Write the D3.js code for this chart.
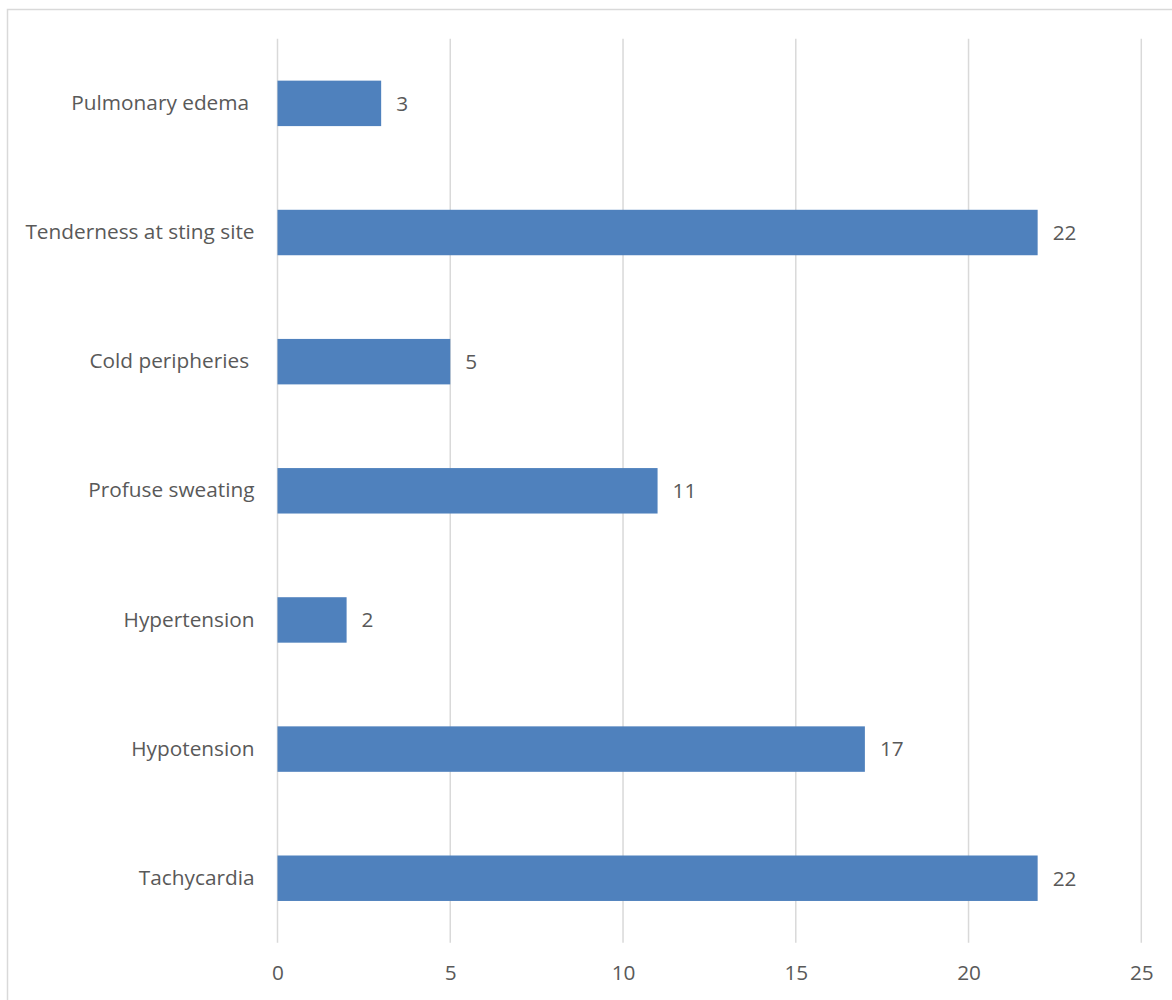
<!DOCTYPE html>
<html>
<head>
<meta charset="utf-8">
<script src="https://cdn.jsdelivr.net/npm/d3@7"></script>
<style>
  html, body { margin: 0; padding: 0; background: #fff; }
  svg { display: block; }
  text { font-family: "Open Sans", sans-serif; fill: #595959; white-space: pre; }
</style>
</head>
<body>
<svg id="chart" width="1172" height="1000"></svg>
<script>
// Symptom counts, listed top to bottom
const categories = [
  "Pulmonary edema ",
  "Tenderness at sting site",
  "Cold peripheries ",
  "Profuse sweating",
  "Hypertension",
  "Hypotension",
  "Tachycardia"
];
const counts = [3, 22, 5, 11, 2, 17, 22];
const xTicks = [0, 5, 10, 15, 20, 25];

const svg = d3.select("#chart");
const W = 1172, H = 1000;
const FS = 20.8;

// chart area frame
svg.append("rect")
  .attr("x", 7.5).attr("y", 9.5)
  .attr("width", W + 20).attr("height", H + 20)
  .attr("fill", "none").attr("stroke", "#d9d9d9").attr("stroke-width", 1.5);

const plot = { left: 277.5, right: 1141.3, top: 38.8, bottom: 942.8 };

const x = d3.scaleLinear().domain([0, 25]).range([plot.left, plot.right]);
const y = d3.scaleBand().domain(categories).range([plot.top, plot.bottom])
  .paddingInner(0.648).paddingOuter(0.324);

// vertical gridlines
svg.append("g").selectAll("line").data(xTicks).join("line")
  .attr("x1", d => x(d)).attr("x2", d => x(d))
  .attr("y1", plot.top).attr("y2", plot.bottom)
  .attr("stroke", "#d9d9d9").attr("stroke-width", 1.5);

// x tick labels
const xAxis = d3.axisBottom(x).tickValues(xTicks).tickSize(0).tickPadding(22);
const gx = svg.append("g").attr("transform", `translate(0,${plot.bottom})`).call(xAxis);
gx.select(".domain").remove();
gx.selectAll("text").attr("font-size", FS).attr("font-family", "Open Sans, sans-serif").attr("fill", "#595959");

// category labels
const yAxis = d3.axisLeft(y).tickSize(0).tickPadding(23);
const gy = svg.append("g").attr("transform", `translate(${plot.left},0)`).call(yAxis);
gy.select(".domain").remove();
gy.selectAll("text").attr("font-size", FS).attr("font-family", "Open Sans, sans-serif").attr("fill", "#595959");

// bars
svg.append("g").selectAll("rect").data(categories).join("rect")
  .attr("x", x(0))
  .attr("y", d => y(d))
  .attr("width", (d, i) => x(counts[i]) - x(0))
  .attr("height", y.bandwidth())
  .attr("fill", "#4f81bd");

// value labels
svg.append("g").selectAll("text").data(categories).join("text")
  .attr("x", (d, i) => x(counts[i]) + 15)
  .attr("y", d => y(d) + y.bandwidth() / 2)
  .attr("dy", "0.35em")
  .attr("font-size", FS)
  .attr("fill", "#404040")
  .text((d, i) => counts[i]);
</script>
</body>
</html>
